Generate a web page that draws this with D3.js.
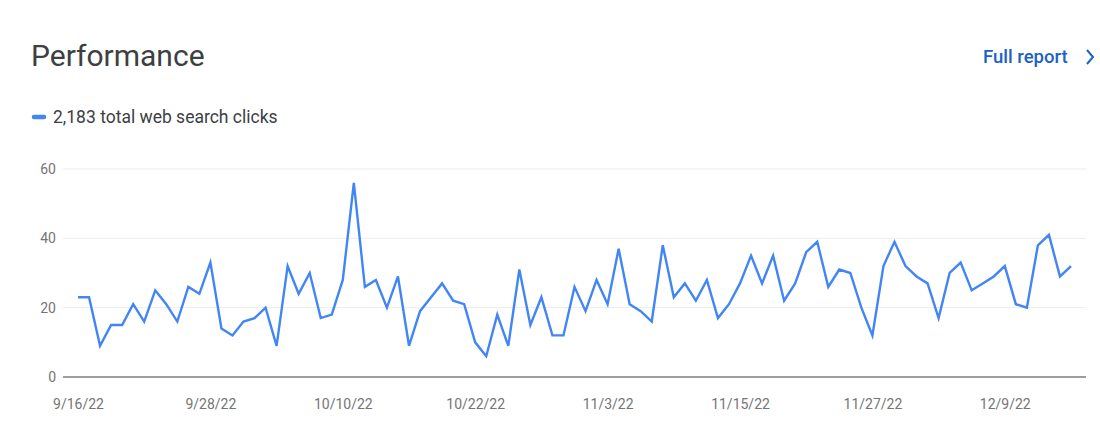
<!DOCTYPE html>
<html><head><meta charset="utf-8">
<script src="https://cdn.jsdelivr.net/npm/d3@7"></script>
<style>
html,body{margin:0;padding:0;background:#fff;}
svg{display:block;}
</style></head>
<body>
<svg id="chart" width="1100" height="446"></svg>
<script>
const startDate = "2022-09-16";
const clicks = [23,23,9,15,15,21,16,25,21,16,
  26,24,33,14,12,16,17,20,9,32,
  24,30,17,18,28,56,26,28,20,29,
  9,19,23,27,22,21,10,6,18,9,
  31,15,23,12,12,26,19,28,21,37,
  21,19,16,38,23,27,22,28,17,21,
  27,35,27,35,22,27,36,39,26,31,
  30,20,12,32,39,32,29,27,17,30,
  33,25,27,29,32,21,20,38,41,29,32];
const yTicks = [0,20,40,60];
const xTickLabels = ["9/16/22","9/28/22","10/10/22","10/22/22","11/3/22","11/15/22","11/27/22","12/9/22"];
const title = "Performance";
const legendLabel = "2,183 total web search clicks";
const linkLabel = "Full report";

const parse = d3.timeParse("%Y-%m-%d");
const t0 = parse(startDate);
const data = clicks.map((v,i)=>({date:d3.timeDay.offset(t0,i), value:v}));
const tickDates = xTickLabels.map(s=>d3.timeParse("%m/%d/%y")(s));

const svg = d3.select("#chart");
const font = "Roboto, 'Open Sans', Arial, sans-serif";

const x = d3.scaleTime().domain([data[0].date, data[data.length-1].date]).range([78,1071]);
const y = d3.scaleLinear().domain([0,60]).range([377,169]);

// title
svg.append("text").attr("x",31).attr("y",66).text(title)
  .attr("font-family",font).attr("font-size",30).attr("fill","#3c4043");
svg.append("text").attr("x",983).attr("y",63).text(linkLabel)
  .attr("font-family",font).attr("font-size",18.5).attr("fill","#1a62c7").attr("font-weight",500);
svg.append("path").attr("d","M1087,50 L1093,57 L1087,64").attr("fill","none")
  .attr("stroke","#1a62c7").attr("stroke-width",2);

// legend
svg.append("line").attr("x1",34).attr("x2",44).attr("y1",117).attr("y2",117)
  .attr("stroke","#4285f4").attr("stroke-width",4.5).attr("stroke-linecap","round");
svg.append("text").attr("x",53).attr("y",123).text(legendLabel)
  .attr("font-family",font).attr("font-size",17.5).attr("fill","#3c4043");

// grid
const yAxis = d3.axisLeft(y).tickValues(yTicks).tickSize(0).tickPadding(0);
const gy = svg.append("g").attr("transform","translate(56,0)").call(yAxis);
gy.select(".domain").remove();
gy.selectAll("text").attr("font-family",font).attr("font-size",14).attr("fill","#757575").attr("text-anchor","end");
svg.append("g").selectAll("line").data(yTicks.filter(d=>d>0)).join("line")
  .attr("x1",63).attr("x2",1086).attr("y1",d=>y(d)).attr("y2",d=>y(d))
  .attr("stroke","#ececec").attr("stroke-width",1);
svg.append("line").attr("x1",63).attr("x2",1086).attr("y1",y(0)).attr("y2",y(0))
  .attr("stroke","#9e9e9e").attr("stroke-width",2);

// x axis
const xAxis = d3.axisBottom(x).tickValues(tickDates).tickSize(0).tickPadding(0)
  .tickFormat((d,i)=>xTickLabels[i]);
const gx = svg.append("g").attr("transform","translate(0,399)").call(xAxis);
gx.select(".domain").remove();
gx.selectAll("text").attr("font-family",font).attr("font-size",14).attr("fill","#757575").attr("dy","0.71em");

// line
const line = d3.line().x(d=>x(d.date)).y(d=>y(d.value));
svg.append("path").datum(data).attr("d",line).attr("fill","none")
  .attr("stroke","#4285f4").attr("stroke-width",2.4).attr("stroke-linejoin","miter");
</script>
</body></html>
